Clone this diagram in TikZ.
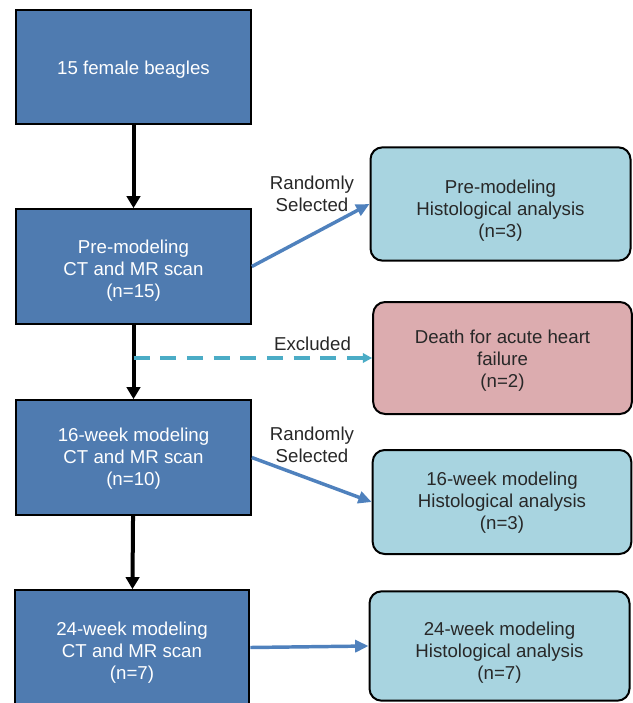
\documentclass[tikz,border=0pt]{standalone}
\usepackage{fontspec}
\setmainfont{Liberation Sans}
\usetikzlibrary{arrows.meta}
\definecolor{scanblue}{RGB}{79,123,176}
\definecolor{histocyan}{RGB}{168,212,224}
\definecolor{deathpink}{RGB}{220,172,175}
\definecolor{linkblue}{RGB}{79,129,189}
\definecolor{dashcyan}{RGB}{75,172,198}
\definecolor{textgray}{RGB}{40,40,40}
\tikzset{drop/.style={execute at begin node={\rule{0pt}{#1}}}}

\begin{document}
\begin{tikzpicture}[x=0.75pt,y=-0.75pt]
			\tikzstyle{scan} = [draw=black, line width=1.5pt, fill=scanblue, text=white, minimum width=176pt, minimum height=86pt, align=center, font=\fontsize{14}{16.5}\selectfont]
			\tikzstyle{histo} = [draw=black, line width=1.5pt, rounded corners=9pt, fill=histocyan, text=textgray, minimum width=195pt, align=center, font=\fontsize{14}{16.5}\selectfont]
			\tikzstyle{note} = [text=textgray, align=center, font=\fontsize{14}{16.5}\selectfont]
			\tikzstyle{main} = [line width=3pt, -{Triangle[length=9pt,width=10pt]}]
			\tikzstyle{side} = [draw=linkblue, line width=2.6pt, -{Triangle[length=10pt,width=9pt]}]
			\useasboundingbox (0,0) rectangle (632,703);
			\node[scan, drop=14.7pt] (beagles) at (133.5,67) {15 female beagles};
			\node[scan, drop=49pt] (prescan) at (133.5,266.5) {Pre-modeling\\CT and MR scan\\(n=15)};
			\node[scan, drop=45.5pt] (wk16scan) at (133.5,457.5) {16-week modeling\\CT and MR scan\\(n=10)};
			\node[scan, drop=51.5pt] (wk24scan) at (132,647.5) {24-week modeling\\CT and MR scan\\(n=7)};
			\node[histo, minimum height=85pt, drop=53pt] (prehisto) at (500.5,204) {Pre-modeling\\Histological analysis\\(n=3)};
			\node[histo, fill=deathpink, minimum width=194pt, minimum height=84pt, drop=47pt] (death) at (502.5,358) {Death for acute heart\\failure\\(n=2)};
			\node[histo, minimum width=194pt, minimum height=78pt, drop=44pt] (wk16histo) at (502,502) {16-week modeling\\Histological analysis\\(n=3)};
			\node[histo, minimum height=82pt, drop=53.7pt] (wk24histo) at (499.5,646) {24-week modeling\\Histological analysis\\(n=7)};
			\node[note] (select1) at (312,194) {Randomly\\Selected};
			\node[note] (select2) at (312,445) {Randomly\\Selected};
			\draw[main] (beagles) -- (prescan);
			\draw[main] (prescan) -- (wk16scan);
			\draw[main] (wk16scan) -- (wk24scan);
			\draw[side] (prescan.east) -- (prehisto.west);
			\draw[side] (wk16scan.east) -- (wk16histo.west);
			\draw[side] (wk24scan.east) -- (wk24histo.west);
			\draw[dashcyan, line width=2.4pt, dash pattern=on 12pt off 8pt, -{Triangle[length=7pt,width=7pt]}] (prescan.south |- death.west) -- (death.west)
				node[note, pos=0.75, above=1pt] (excluded) {Excluded};
		\end{tikzpicture}
\end{document}
